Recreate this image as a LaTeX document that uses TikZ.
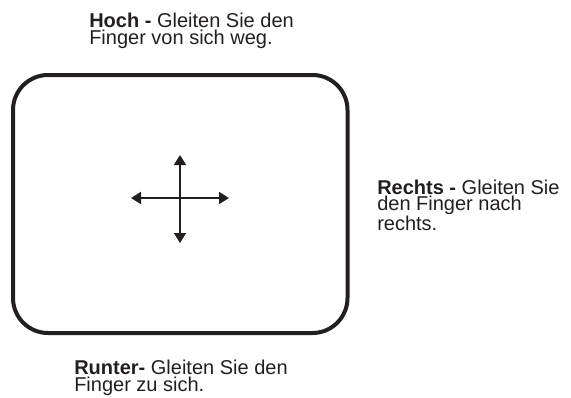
\documentclass[tikz,border=0pt]{standalone}
\usepackage{fontspec}
\setmainfont{Liberation Sans}
\usetikzlibrary{arrows.meta}
\definecolor{ink}{HTML}{231F20}

\begin{document}
\begin{tikzpicture}[x=0.75pt, y=-0.75pt,
		hinweis/.style={anchor=base west, inner sep=0pt, align=left, text=ink, font=\fontsize{15}{12.3}\selectfont},
		pfeil/.style={line width=1.5pt, draw=ink, {Triangle[length=7.5pt,width=9pt]}-{Triangle[length=7.5pt,width=9pt]}}]
		\useasboundingbox (0,0) rectangle (571,397);
		%%%%% START %%%%%
		
		\draw[line width=3pt, draw=ink, rounded corners=26.25pt] (13,75) rectangle (347.5,333);
		
		\coordinate (links) at (131,198);
		\coordinate (rechts) at (229,198);
		\coordinate (oben) at (180,155);
		\coordinate (unten) at (180,243);
		\draw[pfeil] (links) -- (rechts);
		\draw[pfeil] (oben) -- (unten);
		
		% base west = Grundlinie der letzten Zeile
		\node[hinweis] (hoch) at (89,44.3) {\textbf{Hoch -} Gleiten Sie den\\Finger von sich weg.};
		\node[hinweis] (rechtstext) at (377,230.5) {\textbf{Rechts -} Gleiten Sie\\den Finger nach\\rechts.};
		\node[hinweis] (runter) at (74,391) {\textbf{Runter-} Gleiten Sie den\\Finger zu sich.};
		
		%%%%% END %%%%%
	\end{tikzpicture}
\end{document}
